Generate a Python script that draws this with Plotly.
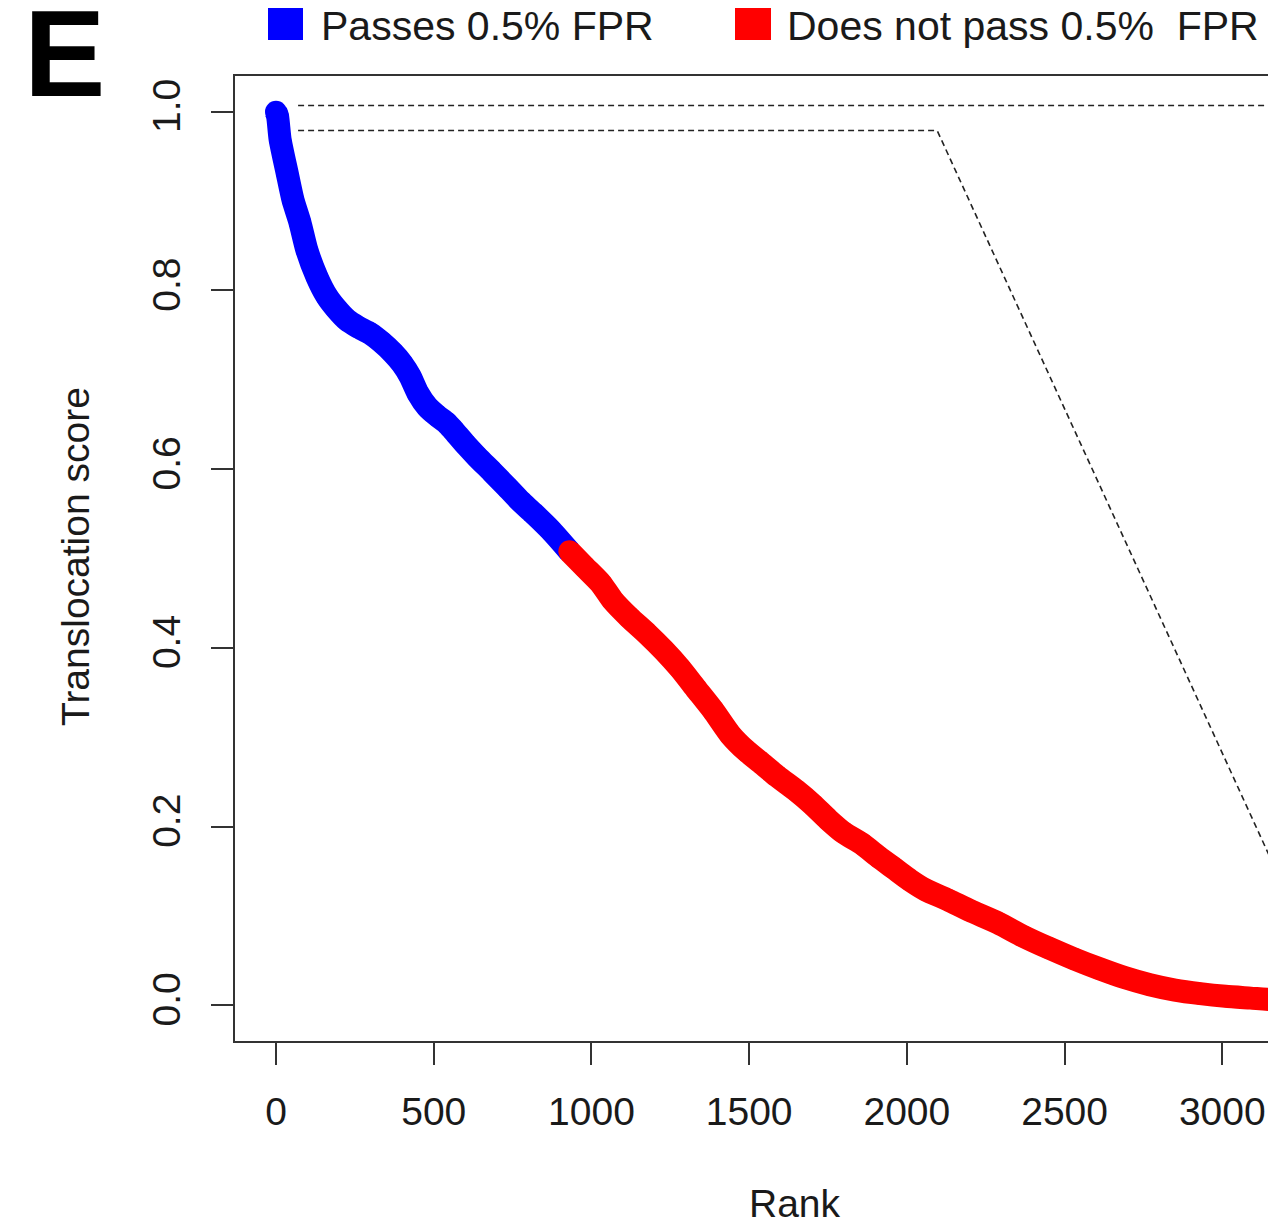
import plotly.graph_objects as go

# ---- data ----
pass_rank = [0, 5, 13, 35, 54, 76, 98, 130, 162, 190, 225, 260, 298, 335, 371, 400,
             425, 450, 479, 510, 540, 561, 600, 637, 685, 732, 775, 815, 870, 930]
pass_score = [1.000, 0.995, 0.969, 0.932, 0.901, 0.876, 0.845, 0.815, 0.793, 0.780,
              0.767, 0.759, 0.752, 0.742, 0.730, 0.718, 0.704, 0.685, 0.670, 0.660,
              0.652, 0.644, 0.628, 0.614, 0.597, 0.580, 0.564, 0.551, 0.532, 0.508]

fail_rank = [930, 980, 1030, 1068, 1120, 1176, 1230, 1281, 1330, 1386, 1440, 1490, 1535,
             1590, 1650, 1700, 1750, 1800, 1860, 1910, 1960, 2010, 2060, 2130, 2200,
             2290, 2370, 2450, 2530, 2610, 2690, 2770, 2850, 2930, 3010, 3090, 3170, 3250]
fail_score = [0.508, 0.490, 0.472, 0.453, 0.434, 0.416, 0.397, 0.377, 0.355, 0.330,
              0.303, 0.285, 0.272, 0.256, 0.240, 0.225, 0.208, 0.193, 0.180, 0.166,
              0.153, 0.140, 0.129, 0.118, 0.106, 0.092, 0.077, 0.064, 0.052, 0.041,
              0.031, 0.023, 0.017, 0.013, 0.010, 0.008, 0.006, 0.005]

x_ticks = [0, 500, 1000, 1500, 2000, 2500, 3000]
y_ticks = [0.0, 0.2, 0.4, 0.6, 0.8, 1.0]
y_tick_labels = ["0.0", "0.2", "0.4", "0.6", "0.8", "1.0"]

legend_labels = ["Passes 0.5% FPR", "Does not pass 0.5%\u00a0 FPR"]
colors = ["#0000FF", "#FF0000"]

# zoom connector guides (data coordinates)
upper_guide = {"x": [70, 3300], "y": [1.007, 1.007]}
lower_guide = {"x": [70, 2096, 3300], "y": [0.979, 0.979, 0.051]}

# ---- layout geometry (page body has an 8px margin) ----
OFF = 8
W, H = 1276 - 2 * OFF, 1226 - OFF
L, R, T = 235 - OFF, 0, 76 - OFF
B = H - (1041 - OFF)
PW, PH = W - L - R, H - T - B
FONT = "Liberation Sans, Arial, sans-serif"
TXT = "#1a1a1a"
X_RANGE = [-130, -130 + PW / 0.31543]


def px_x(px):
    return (px - OFF - L) / PW


def px_y(py):
    return (H - B - (py - OFF)) / PH


fig = go.Figure()

for rk, sc, col in [(pass_rank, pass_score, colors[0]), (fail_rank, fail_score, colors[1])]:
    fig.add_trace(go.Scatter(
        x=rk, y=sc, mode="lines+markers",
        line=dict(color=col, width=23, shape="spline", smoothing=0.6),
        marker=dict(color=col, size=22, symbol="circle", line=dict(width=0)),
        showlegend=False, hoverinfo="skip",
    ))

# dashed guide lines
for g in (upper_guide, lower_guide):
    fig.add_trace(go.Scatter(
        x=g["x"], y=g["y"], mode="lines",
        line=dict(color="#222222", width=1.6, dash="6px,4px"),
        showlegend=False, hoverinfo="skip",
    ))

fig.update_layout(
    width=W, height=H,
    margin=dict(l=L, r=R, t=T, b=B, pad=0),
    paper_bgcolor="white", plot_bgcolor="white",
    font=dict(family=FONT, size=39, color=TXT),
    xaxis=dict(
        range=X_RANGE, tickvals=x_ticks, ticktext=[str(v) for v in x_ticks],
        showgrid=False, zeroline=False, showline=True, mirror=True,
        linecolor="#333333", linewidth=2,
        ticks="outside", ticklen=22, tickwidth=2, tickcolor="#333333",
        tickfont=dict(size=39, color=TXT, family=FONT), ticklabelstandoff=13,
    ),
    yaxis=dict(
        range=[-0.04, 1.04], tickvals=y_ticks, ticktext=y_tick_labels,
        showgrid=False, zeroline=False, showline=True, mirror=False,
        linecolor="#333333", linewidth=2,
        ticks="outside", ticklen=22, tickwidth=2, tickcolor="#333333",
        tickangle=-90, tickfont=dict(size=39, color=TXT, family=FONT),
        ticklabelstandoff=15,
    ),
)

# axis titles
fig.add_annotation(text="Rank", xref="paper", yref="paper",
                   x=px_x(795), y=px_y(1203), showarrow=False,
                   xanchor="center", yanchor="middle",
                   font=dict(size=39, color=TXT, family=FONT))
fig.add_annotation(text="Translocation score", xref="paper", yref="paper",
                   x=px_x(75), y=px_y(557), showarrow=False, textangle=-90,
                   xanchor="center", yanchor="middle",
                   font=dict(size=39, color=TXT, family=FONT))

# panel letter
fig.add_annotation(text="<b>E</b>", xref="paper", yref="paper",
                   x=px_x(64), y=px_y(54), showarrow=False,
                   xanchor="center", yanchor="middle",
                   font=dict(size=122, color="black", family=FONT))

# legend (top)
leg_boxes = [(268, 303), (735, 771)]
leg_text_x = [319, 785]
for (x0, x1), tx, lab, col in zip(leg_boxes, leg_text_x, legend_labels, colors):
    fig.add_shape(type="rect", xref="paper", yref="paper",
                  x0=px_x(x0), x1=px_x(x1), y0=px_y(40), y1=px_y(8),
                  fillcolor=col, line=dict(width=0))
    fig.add_annotation(text=lab, xref="paper", yref="paper",
                       x=px_x(tx), y=px_y(26), showarrow=False,
                       xanchor="left", yanchor="middle",
                       font=dict(size=41, color=TXT, family=FONT))

fig.write_html("out.html")
